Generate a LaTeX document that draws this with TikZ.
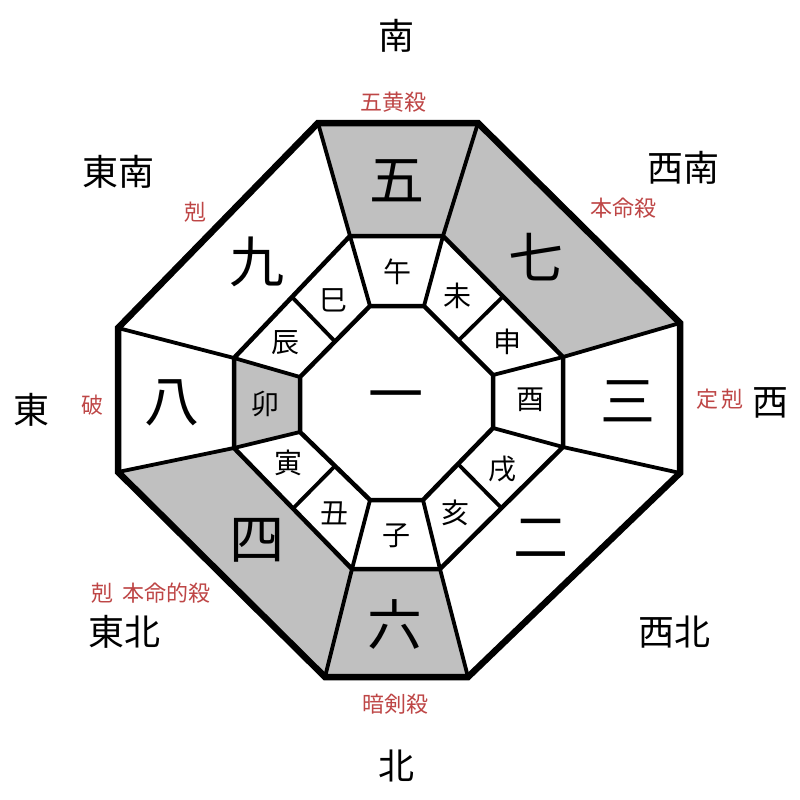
\documentclass[tikz,border=0pt]{standalone}
\usepackage{fontspec}
\usetikzlibrary{calc}
\newfontfamily\cjk{Noto Sans CJK JP}
\definecolor{lbl}{RGB}{190,70,70}
\definecolor{shade}{RGB}{192,192,192}
\tikzset{
  dirtext/.style={inner sep=0pt,font=\cjk\fontsize{36}{36}\selectfont},
  redtext/.style={inner sep=0pt,text=lbl,font=\cjk\fontsize{22}{22}\selectfont},
  numtext/.style={inner sep=0pt,font=\cjk\fontsize{55}{55}\selectfont},
  zodtext/.style={inner sep=0pt,font=\cjk\fontsize{28}{28}\selectfont},
  outerline/.style={line width=6.5pt,line join=miter},
  ringline/.style={line width=4.5pt,line join=miter},
  spokeline/.style={line width=3.8pt,line cap=round},
  cell/.style={fill=shade}
}
\begin{document}
\begin{tikzpicture}[x=1pt,y=-1pt]
\useasboundingbox (0,0) rectangle (800,800);
\fill[white] (0,0) rectangle (800,800);
% outer octagon
\coordinate (O1) at (318,123);
\coordinate (O2) at (478,123);
\coordinate (O3) at (680,323);
\coordinate (O4) at (680,473);
\coordinate (O5) at (468,677);
\coordinate (O6) at (325,677);
\coordinate (O7) at (118,472);
\coordinate (O8) at (118,328);
% middle octagon
\coordinate (M1) at (350,236);
\coordinate (M2) at (443,236);
\coordinate (M3) at (563,357);
\coordinate (M4) at (563,447);
\coordinate (M5) at (440,569);
\coordinate (M6) at (352,569);
\coordinate (M7) at (234,448);
\coordinate (M8) at (234,358);
% inner octagon
\coordinate (I1) at (370,306);
\coordinate (I2) at (424,306);
\coordinate (I3) at (493,375);
\coordinate (I4) at (493,428);
\coordinate (I5) at (423,500);
\coordinate (I6) at (370,500);
\coordinate (I7) at (300,432);
\coordinate (I8) at (300,377);
% divider ends
\coordinate (DNWa) at ($(M8)!0.5!(M1)$);
\coordinate (DNWb) at ($(I8)!0.5!(I1)$);
\coordinate (DNEa) at ($(M2)!0.5!(M3)$);
\coordinate (DNEb) at ($(I2)!0.5!(I3)$);
\coordinate (DSEa) at ($(M4)!0.5!(M5)$);
\coordinate (DSEb) at ($(I4)!0.5!(I5)$);
\coordinate (DSWa) at ($(M6)!0.5!(M7)$);
\coordinate (DSWb) at ($(I6)!0.5!(I7)$);
% shaded cells
\fill[cell] (O1) -- (O2) -- (M2) -- (M1) -- cycle;
\fill[cell] (O2) -- (O3) -- (M3) -- (M2) -- cycle;
\fill[cell] (O5) -- (O6) -- (M6) -- (M5) -- cycle;
\fill[cell] (O6) -- (O7) -- (M7) -- (M6) -- cycle;
\fill[cell] (M7) -- (M8) -- (I8) -- (I7) -- cycle;
% spokes
\foreach \i in {1,...,8} {
  \draw[spokeline] (O\i) -- (M\i);
  \draw[spokeline] (M\i) -- (I\i);
}
\draw[spokeline] (DNWa) -- (DNWb);
\draw[spokeline] (DNEa) -- (DNEb);
\draw[spokeline] (DSEa) -- (DSEb);
\draw[spokeline] (DSWa) -- (DSWb);
% rings
\draw[ringline] (M1) -- (M2) -- (M3) -- (M4) -- (M5) -- (M6) -- (M7) -- (M8) -- cycle;
\draw[ringline] (I1) -- (I2) -- (I3) -- (I4) -- (I5) -- (I6) -- (I7) -- (I8) -- cycle;
\draw[outerline] (O1) -- (O2) -- (O3) -- (O4) -- (O5) -- (O6) -- (O7) -- (O8) -- cycle;
% direction labels
\node[dirtext] (dS) at (396,36) {南};
\node[dirtext] (dSE) at (118,172) {東南};
\node[dirtext] (dSW) at (683,168) {西南};
\node[dirtext] (dE) at (31,410) {東};
\node[dirtext] (dW) at (770,403) {西};
\node[dirtext] (dNE) at (124,632) {東北};
\node[dirtext] (dNW) at (674,632) {西北};
\node[dirtext] (dN) at (396,766) {北};
% red labels
\node[redtext] (rS) at (393,102) {五黄殺};
\node[redtext] (rSE) at (195,212) {剋};
\node[redtext] (rSW) at (623,208) {本命殺};
\node[redtext] (rW) at (720,399) {定\hspace{4pt}剋};
\node[redtext] (rE) at (92,405) {破};
\node[redtext] (rNE) at (151,593) {剋\hspace{9pt}本命的殺};
\node[redtext] (rN) at (395,704) {暗剣殺};
% numbers
\node[numtext] (n5) at (397,181) {五};
\node[numtext] (n7) at (536,257) {七};
\node[numtext] (n3) at (628,401) {三};
\node[numtext] (n2) at (541,538) {二};
\node[numtext] (n6) at (395,624) {六};
\node[numtext] (n4) at (257,540) {四};
\node[numtext] (n8) at (172,403) {八};
\node[numtext] (n9) at (257,262) {九};
\node[numtext] (n1) at (396,403) {一};
% zodiac
\node[zodtext] (zWu) at (397,272) {午};
\node[zodtext] (zWei) at (457,296) {未};
\node[zodtext] (zShen) at (507,342) {申};
\node[zodtext] (zYou) at (530,400) {酉};
\node[zodtext] (zXu) at (502,469) {戌};
\node[zodtext] (zHai) at (455,513) {亥};
\node[zodtext] (zZi) at (396,536) {子};
\node[zodtext] (zChou) at (334,513) {丑};
\node[zodtext] (zYin) at (288,463) {寅};
\node[zodtext] (zMao) at (265,404) {卯};
\node[zodtext] (zChen) at (285,343) {辰};
\node[zodtext] (zSi) at (333,300) {巳};
\end{tikzpicture}
\end{document}
